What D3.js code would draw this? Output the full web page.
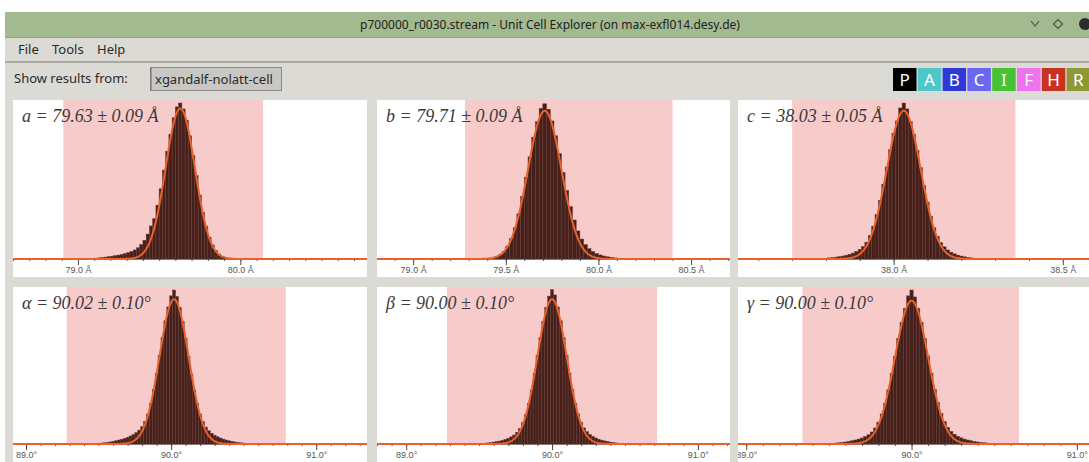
<!DOCTYPE html>
<html>
<head>
<meta charset="utf-8">
<script src="https://cdn.jsdelivr.net/npm/d3@7"></script>
<style>
  html, body { margin: 0; padding: 0; background: #ffffff; }
  svg { display: block; }
</style>
</head>
<body>
<script>
// ---- Unit cell parameter histograms (counts per bin) ----
const binWidthA = 0.02, firstBinA = 79.05;
const countsA = [1,2,3,5,7,9,12,15,18,21,25,29,34,40,48,58,72,92,120,160,212,258,345,450,570,690,800,905,975,1000,962,890,790,665,535,410,300,210,140,90,55,32,18,10,6,3,2];

const binWidthB = 0.02, firstBinB = 79.39;
const countsB = [1,3,7,14,27,48,82,130,200,290,400,525,655,780,880,965,995,960,885,790,675,555,440,335,250,180,128,92,66,48,35,26,19,14,10,7,5,3,2];

const binWidthC = 0.01, firstBinC = 37.76;
const countsC = [1,2,3,4,5,7,9,12,15,19,24,30,38,48,62,80,108,150,210,285,375,480,590,700,805,885,968,1000,962,880,800,695,585,470,365,275,200,145,105,78,58,44,33,25,19,14,10,7,5,3,2,1];

const binWidthAl = 0.02, firstBinAl = 89.44;
const countsAl = [1,2,3,4,6,8,10,13,17,21,26,31,37,44,52,62,74,90,112,145,195,265,355,460,575,690,800,890,962,1000,958,885,795,685,570,455,350,262,195,145,110,86,69,57,47,39,32,26,21,17,13,10,8,6,4,3,2,1];

const binWidthBe = 0.02, firstBinBe = 89.46;
const countsBe = [1,2,3,4,5,7,9,12,15,19,24,30,37,46,58,76,100,138,190,262,352,460,575,690,795,885,960,1002,968,890,800,690,575,460,355,265,195,142,105,80,62,49,39,31,25,20,16,12,9,7,5,4,3,2,1];

const binWidthGa = 0.02, firstBinGa = 89.46;
const countsGa = [1,2,3,4,6,8,10,13,17,21,26,32,39,48,60,78,104,142,195,265,352,458,570,685,790,880,962,1000,955,880,790,685,572,460,355,268,198,146,108,82,63,50,40,32,26,21,16,13,10,8,6,4,3,2,1];

// ---- Fitted means, widths (from the panel labels) and fit heights ----
const fitMeans  = [79.63, 79.71, 38.03, 90.02, 90.00, 90.00];
const fitSigmas = [0.09, 0.09, 0.05, 0.10, 0.10, 0.10];
const fitPeaks  = [965, 950, 950, 940, 940, 930];

// ---- Accepted tolerance ranges (shaded) ----
const rangeLo = [78.91, 79.28, 37.70, 89.28, 89.28, 89.34];
const rangeHi = [80.14, 80.40, 38.36, 90.79, 90.72, 90.65];

// ---- Axis domains and tick values ----
const domainLo = [78.60, 78.805, 37.54, 88.91, 88.80, 88.95];
const domainHi = [80.78, 80.71, 38.61, 91.35, 91.22, 91.14];
const majorTicksA = [79.0, 80.0];
const majorTicksB = [79.0, 79.5, 80.0, 80.5];
const majorTicksC = [38.0, 38.5];
const majorTicksAng = [89.0, 90.0, 91.0];

const panelLabels = [
  ["a", " = 79.63 ± 0.09 Å"],
  ["b", " = 79.71 ± 0.09 Å"],
  ["c", " = 38.03 ± 0.05 Å"],
  ["α", " = 90.02 ± 0.10°"],
  ["β", " = 90.00 ± 0.10°"],
  ["γ", " = 90.00 ± 0.10°"]
];
const unitSuffix = [" Å", " Å", " Å", "°", "°", "°"];

const latticeButtons = ["P", "A", "B", "C", "I", "F", "H", "R"];
const latticeColours = ["#000000", "#4fc6c9", "#2d3ad6", "#6b68ef", "#46c233", "#ef72ef", "#c9321f", "#8c9a31"];

const menuItems = ["File", "Tools", "Help"];

// ---- Page ----
const W = 1089, H = 462;
const svg = d3.select("body").append("svg").attr("width", W).attr("height", H);
const uiFont = "'Noto Sans', 'DejaVu Sans', sans-serif";

// window body
svg.append("rect").attr("x", 5).attr("y", 12).attr("width", W - 5).attr("height", H - 12).attr("fill", "#dcdad5");
// title bar
svg.append("rect").attr("x", 5).attr("y", 12).attr("width", W - 5).attr("height", 25).attr("fill", "#a3b98f");
svg.append("line").attr("x1", 5).attr("x2", W).attr("y1", 37.5).attr("y2", 37.5).attr("stroke", "#8fa37d");
svg.append("text").attr("x", 550).attr("y", 29).attr("text-anchor", "middle")
  .attr("font-family", uiFont).attr("font-size", 12).attr("fill", "#222")
  .text("p700000_r0030.stream - Unit Cell Explorer (on max-exfl014.desy.de)");
// window controls
svg.append("path").attr("d", "M1031,21 L1035,26 L1039,21").attr("fill", "none").attr("stroke", "#4a5a40").attr("stroke-width", 1.2);
svg.append("path").attr("d", "M1058,19.5 L1062.5,24 L1058,28.5 L1053.5,24 Z").attr("fill", "none").attr("stroke", "#4a5a40").attr("stroke-width", 1.2);
svg.append("circle").attr("cx", 1085).attr("cy", 24).attr("r", 6).attr("fill", "#2d2d2d");

// menu bar
svg.selectAll("text.menu").data(menuItems).enter().append("text")
  .attr("class", "menu")
  .attr("x", (d, i) => [18, 52, 97][i]).attr("y", 54)
  .attr("font-family", uiFont).attr("font-size", 13).attr("fill", "#2a2a2a")
  .text(d => d);
svg.append("rect").attr("x", 5).attr("y", 61).attr("width", W - 5).attr("height", 2).attr("fill", "#a9a7a2");

// toolbar
svg.append("text").attr("x", 14).attr("y", 83)
  .attr("font-family", uiFont).attr("font-size", 13).attr("fill", "#2a2a2a")
  .text("Show results from:");
svg.append("rect").attr("x", 150.5).attr("y", 67.5).attr("width", 131).attr("height", 23)
  .attr("fill", "#c9c7c3").attr("stroke", "#8d8b87");
svg.append("line").attr("x1", 151).attr("x2", 151).attr("y1", 68).attr("y2", 90).attr("stroke", "#6c6a66");
svg.append("text").attr("x", 155).attr("y", 84)
  .attr("font-family", uiFont).attr("font-size", 13).attr("fill", "#2a2a2a")
  .text("xgandalf-nolatt-cell");

const btn = svg.selectAll("g.lat").data(latticeButtons).enter().append("g").attr("class", "lat")
  .attr("transform", (d, i) => `translate(${893 + i * 24.8},68)`);
btn.append("rect").attr("width", 23.5).attr("height", 23).attr("fill", (d, i) => latticeColours[i]);
btn.append("text").attr("x", 11.75).attr("y", 18).attr("text-anchor", "middle")
  .attr("font-family", uiFont).attr("font-size", 17).attr("fill", "#ffffff")
  .text(d => d);

// ---- Histogram panels ----
const colX = [[13, 367], [377, 730], [738, 1100]];
const rowY = [{ top: 100, axis: 259, bottom: 277 }, { top: 287, axis: 444, bottom: 475 }];

const panels = [
  { counts: countsA,  first: firstBinA,  bw: binWidthA,  ticks: majorTicksA },
  { counts: countsB,  first: firstBinB,  bw: binWidthB,  ticks: majorTicksB },
  { counts: countsC,  first: firstBinC,  bw: binWidthC,  ticks: majorTicksC },
  { counts: countsAl, first: firstBinAl, bw: binWidthAl, ticks: majorTicksAng },
  { counts: countsBe, first: firstBinBe, bw: binWidthBe, ticks: majorTicksAng },
  { counts: countsGa, first: firstBinGa, bw: binWidthGa, ticks: majorTicksAng }
];

panels.forEach((p, i) => {
  const [x0, x1] = colX[i % 3];
  const r = rowY[Math.floor(i / 3)];
  const clipId = "clip" + i;
  svg.append("clipPath").attr("id", clipId)
    .append("rect").attr("x", x0).attr("y", r.top).attr("width", x1 - x0).attr("height", r.bottom - r.top);

  const g = svg.append("g").attr("clip-path", `url(#${clipId})`);
  g.append("rect").attr("x", x0).attr("y", r.top).attr("width", x1 - x0).attr("height", r.bottom - r.top)
    .attr("fill", "#ffffff");

  const x = d3.scaleLinear().domain([domainLo[i], domainHi[i]]).range([x0, x1]);
  const y = d3.scaleLinear().domain([0, 1000]).range([r.axis, r.top + 3]);

  // tolerance range
  g.append("rect")
    .attr("x", x(rangeLo[i])).attr("y", r.top)
    .attr("width", x(rangeHi[i]) - x(rangeLo[i])).attr("height", r.axis - r.top)
    .attr("fill", "#f8cbcb");

  // histogram bins
  const bins = p.counts.map((c, k) => ({ centre: p.first + k * p.bw, count: c }));
  g.selectAll("rect.bin").data(bins).enter().append("rect")
    .attr("class", "bin")
    .attr("x", d => x(d.centre - p.bw / 2))
    .attr("width", d => x(d.centre + p.bw / 2) - x(d.centre - p.bw / 2))
    .attr("y", d => y(d.count))
    .attr("height", d => r.axis - y(d.count))
    .attr("fill", "#44201b")
    .attr("stroke", "#6e3b34").attr("stroke-width", 0.5);

  // axis
  const minorTicks = d3.range(Math.ceil(domainLo[i] * 10), Math.floor(domainHi[i] * 10) + 1).map(v => v / 10);
  const minorAxis = d3.axisBottom(x).tickValues(minorTicks).tickSize(3).tickFormat("");
  const gMinor = g.append("g").attr("transform", `translate(0,${r.axis - 1})`).call(minorAxis);
  gMinor.select(".domain").remove();
  gMinor.selectAll("line").attr("stroke", "#555");

  const majorAxis = d3.axisBottom(x).tickValues(p.ticks).tickSize(6).tickPadding(2)
    .tickFormat(v => d3.format(".1f")(v) + unitSuffix[i]);
  const gMajor = g.append("g").attr("transform", `translate(0,${r.axis})`).call(majorAxis);
  gMajor.select(".domain").remove();
  gMajor.selectAll("line").attr("stroke", "#444");
  gMajor.selectAll("text").attr("font-family", "'Liberation Sans', Arial, sans-serif")
    .attr("font-size", 9).attr("fill", "#555");

  g.append("line").attr("x1", x0).attr("x2", x1).attr("y1", r.axis).attr("y2", r.axis)
    .attr("stroke", "#3a2a25").attr("stroke-width", 1);

  // Gaussian fit
  const mu = fitMeans[i], s = fitSigmas[i], A = fitPeaks[i];
  const xs = d3.range(0, 601).map(k => domainLo[i] + (domainHi[i] - domainLo[i]) * k / 600);
  const line = d3.line()
    .x(v => x(v))
    .y(v => y(A * Math.exp(-0.5 * ((v - mu) / s) ** 2)));
  g.append("path").datum(xs).attr("d", line)
    .attr("fill", "none").attr("stroke", "#e9622b").attr("stroke-width", 2);

  // parameter label
  const t = g.append("text").attr("x", x0 + 9).attr("y", r.top + 22)
    .attr("font-family", "'Liberation Serif', 'DejaVu Serif', serif")
    .attr("font-style", "italic").attr("font-size", 18).attr("fill", "#3a3a3a");
  t.append("tspan").text(panelLabels[i][0]);
  t.append("tspan").text(panelLabels[i][1]);
});
</script>
</body>
</html>
